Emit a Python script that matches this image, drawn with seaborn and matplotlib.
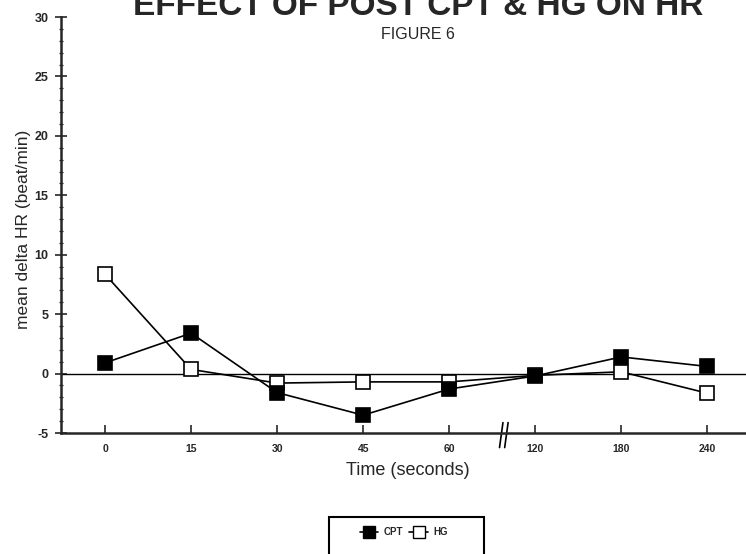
import matplotlib
matplotlib.use("Agg")
import matplotlib.pyplot as plt
import matplotlib.transforms as mtransforms
from matplotlib.lines import Line2D
from matplotlib.patches import Rectangle
from matplotlib.ticker import MultipleLocator
import seaborn as sns
import pandas as pd

# ---- data ----
times = ['0', '15', '30', '45', '60', '120', '180', '240']
cpt = [0.9, 3.4, -1.6, -3.5, -1.3, -0.2, 1.4, 0.6]
hg = [8.35, 0.35, -0.8, -0.7, -0.7, -0.15, 0.15, -1.65]
series_names = ['CPT', 'HG']
title_text = 'EFFECT OF POST CPT & HG ON HR'
subtitle_text = 'FIGURE 6'
y_ticks = [-5, 0, 5, 10, 15, 20, 25, 30]

sns.set_style('ticks')
plt.rcParams['font.family'] = ['Liberation Sans', 'DejaVu Sans']

df_cpt = pd.DataFrame({'time': times, 'value': cpt})
df_hg = pd.DataFrame({'time': times, 'value': hg})

fig = plt.figure(figsize=(7.46, 5.54), dpi=100)
W, H = 746, 554
ax_l, ax_r, ax_t, ax_b = 61, 746, 17, 433
ax = fig.add_axes([ax_l / W, 1 - ax_b / H, (ax_r - ax_l) / W, (ax_b - ax_t) / H])

ax.axhline(0, color='black', lw=1.0, zorder=1)

sns.pointplot(data=df_hg, x='time', y='value', order=times, ax=ax,
              color='black', marker='s', markersize=10.5, markerfacecolor='white',
              markeredgewidth=1.2, linewidth=1.2, errorbar=None)
sns.pointplot(data=df_cpt, x='time', y='value', order=times, ax=ax,
              color='black', marker='s', markersize=10.5, markerfacecolor='black',
              markeredgewidth=1.2, linewidth=1.2, errorbar=None)

ax.set_xlim(-0.512, 7.45)
ax.set_ylim(-5, 30)
ax.set_yticks(y_ticks)
ax.set_yticklabels([str(v) for v in y_ticks])
ax.yaxis.set_minor_locator(MultipleLocator(1))

for s in ['top', 'right']:
    ax.spines[s].set_visible(False)
ax.spines['left'].set_linewidth(1.8)
ax.spines['bottom'].set_linewidth(1.8)

ax.tick_params(axis='x', direction='in', length=6, width=1.2, pad=8,
               labelsize=7.5)
ax.tick_params(axis='y', which='major', direction='inout', length=8, width=1.2,
               pad=5, labelsize=9)
ax.tick_params(axis='y', which='minor', direction='inout', length=3, width=0.9)
for lab in ax.get_xticklabels() + ax.get_yticklabels():
    lab.set_fontweight('bold')

ax.set_xlabel('Time (seconds)', fontsize=13)
ax.xaxis.set_label_coords((408 - ax_l) / (ax_r - ax_l), (ax_b - 462) / (ax_b - ax_t))
ax.set_ylabel('mean delta HR (beat/min)', fontsize=12.5)
ax.yaxis.set_label_coords((31 - ax_l) / (ax_r - ax_l), 0.49)

# axis break marks between 60 and 120
trans = mtransforms.blended_transform_factory(ax.transData, ax.transAxes)
for xb in (4.605, 4.665):
    ax.plot([xb - 0.02, xb + 0.02], [-0.035, 0.025], color='black', lw=1.2,
            transform=trans, clip_on=False)

# titles
fig.text(418 / W, 1 - 15 / H, title_text, ha='center', va='baseline',
         fontsize=24, fontweight='bold')
fig.text(418 / W, 1 - 39 / H, subtitle_text, ha='center', va='baseline',
         fontsize=11.5)

# legend
fig.patches.append(Rectangle((329 / W, -0.05), (484 - 329) / W, 0.05 + (1 - 517 / H),
                             transform=fig.transFigure, fill=False,
                             edgecolor='black', lw=1.5))
handles = [
    Line2D([], [], color='black', marker='s', markersize=8, markerfacecolor='black',
           lw=1.2),
    Line2D([], [], color='black', marker='s', markersize=8, markerfacecolor='white',
           lw=1.2),
]
fig.legend(handles, series_names, loc='center', bbox_to_anchor=(404 / W, 1 - 532 / H),
           ncol=2, frameon=False, handlelength=1.9, handletextpad=0.6,
           columnspacing=0.6, prop={'size': 7, 'weight': 'bold'})

fig.savefig('out.png', dpi=100)
